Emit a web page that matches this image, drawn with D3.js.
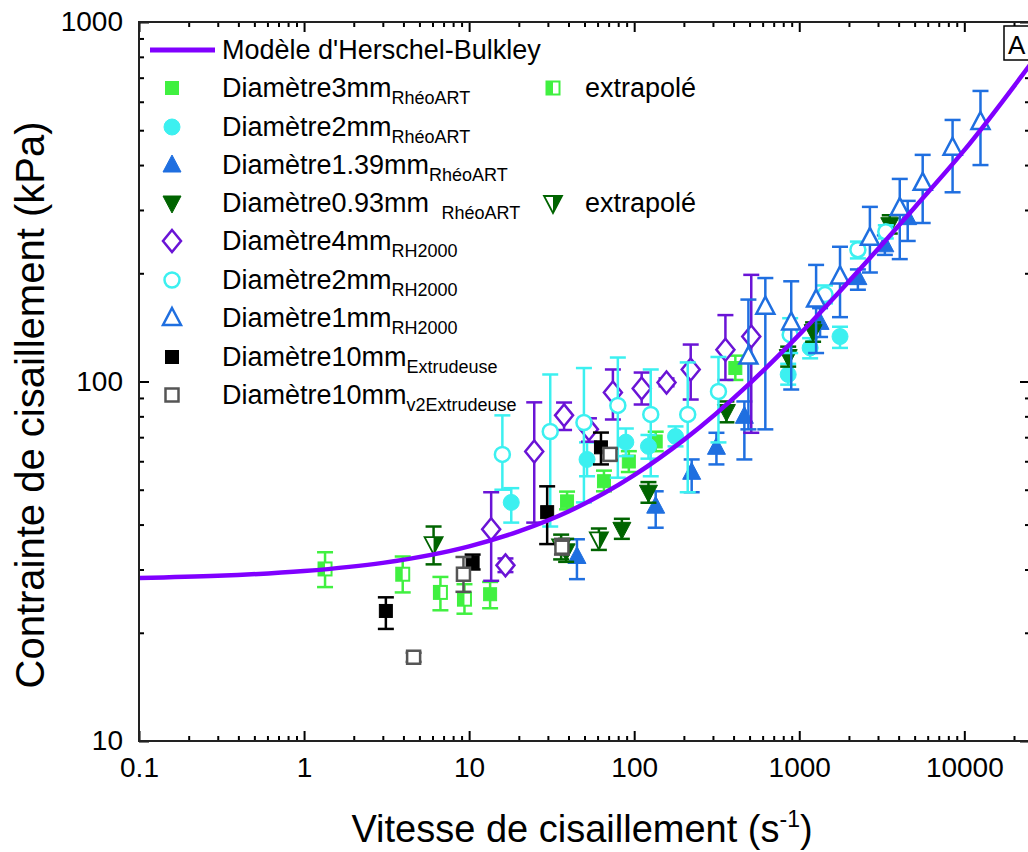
<!DOCTYPE html>
<html><head><meta charset="utf-8">
<script src="https://cdn.jsdelivr.net/npm/d3@7"></script>
<style>body{margin:0;background:#fff}</style>
</head><body><svg id="c" width="1028" height="852"></svg>
<script>
// ---- tick labels ----
const xTickValues = [0.1, 1, 10, 100, 1000, 10000];
const yTickValues = [10, 100, 1000];

// ---- Herschel-Bulkley model curve ----
const hbShear  = [0.1, 0.3, 1, 3, 10, 20, 40, 100, 200, 500, 1000, 2000, 5000, 10000, 25000];
const hbStress = [28.4, 28.8, 29.7, 31.3, 34.8, 38.3, 43.5, 54.9, 68.8, 98.7, 135, 190, 305, 440, 760];

// ---- data: [shear rate, stress, err low, err high] ----
const d3mmRheo = [
  [13.4, 25.6, 23.4, 27.7], [39.2, 46.4, 44.1, 49.4], [65.6, 52.8, 49.5, 56.5],
  [92.8, 59.9, 56, 64], [135, 68.1, 64, 72.5], [410, 109, 101, 118]
];
const d3mmExtra = [
  [1.34, 30.1, 26.8, 33.5], [3.96, 29.1, 25.9, 32.6], [6.7, 25.9, 23.1, 28.6], [9.37, 24.8, 22.6, 27.3]
];
const d2mmRheo = [
  [18.0, 46.1, 40.5, 50.5], [51.8, 60.7, 54.5, 67.7], [89, 67.8, 62, 74], [122, 66, 61, 71],
  [178, 70.3, 66, 75], [857, 104.6, 98, 112], [1164, 124, 116, 132], [1766, 133.4, 124, 142]
];
const d139Rheo = [
  [45, 32.6, 28.2, 36.4], [135, 45, 39.2, 49.5], [223, 55.9, 49.2, 60.7], [315, 65.6, 58.8, 72],
  [465, 80, 60.7, 88], [1337, 146, 133, 160], [2266, 194.5, 180, 205], [3300, 240, 225, 255],
  [4540, 285.6, 246, 318]
];
const d093Rheo = [
  [38.7, 33.8, 31.5, 36.5], [84.2, 38.8, 36.5, 41.5], [122, 49.2, 46, 52.5], [362, 82.5, 77, 88],
  [857, 117.3, 110, 125], [1213, 137.6, 129, 146], [3535, 273, 258, 290]
];
const d093Extra = [
  [6.09, 35.3, 31.0, 39.5], [36.1, 34.8, 32, 37.5], [61.1, 36.4, 34, 39]
];
const d4mmRH = [
  [13.6, 38.8, 27.9, 49.2], [16.6, 30.8, 29.5, 32.2], [24.8, 63.9, 40.5, 87.5], [37.6, 80.5, 73.3, 87.4],
  [53.2, 73.6, 68, 79], [74.3, 93.2, 78.4, 108], [111, 95.6, 86.3, 105.9], [157, 99.4, 97, 102],
  [220, 108, 89.1, 126.7], [357, 122.6, 101, 153], [512, 133.4, 72, 198]
];
const d2mmRH = [
  [15.9, 62.7, 50, 80.5], [31, 72.6, 39.5, 104.6], [49.6, 76.9, 46.1, 109], [79.6, 85.8, 54, 116.6],
  [126, 81, 54.5, 108], [211, 81, 49.2, 113], [324, 93.8, 67.7, 117], [881, 135, 120, 150],
  [1433, 174.5, 165, 185], [2266, 232.6, 220, 245], [3345, 261, 250, 272]
];
const d1mmRH = [
  [492, 117.3, 73.6, 169], [623, 161.5, 73.6, 194], [894, 146, 95, 190], [1265, 169, 120, 211],
  [1766, 196, 151, 237], [2679, 251, 201, 306], [4064, 304, 219, 366], [5595, 357, 276, 427],
  [8490, 447, 336, 534], [12530, 527, 400, 643]
];
const d10Extr = [
  [3.13, 23.0, 20.5, 25.1], [10.5, 31.4, 30, 33], [29.7, 43.3, 35.3, 51.1], [62.9, 65.6, 58.8, 72.1]
];
const d10v2Extr = [
  [4.61, 17.1, 16.6, 17.6], [9.24, 29.1, 26, 32.5], [36.5, 34.6, 33, 36.5], [71.3, 62.7, 60.5, 65]
];

// ---- colours ----
const cGreen = "#40f040", cCyan = "#3cf0f0", cBlue = "#1f6fe0", cDkGreen = "#006400",
      cPurple = "#6a14d6", cCurve = "#8000ff", cBlack = "#000000", cGray = "#555555";

const series = [
  {data: d3mmExtra, shape: "halfSquare", color: cGreen},
  {data: d3mmRheo, shape: "square", color: cGreen, fill: true},
  {data: d2mmRheo, shape: "circle", color: cCyan, fill: true},
  {data: d139Rheo, shape: "triUp", color: cBlue, fill: true},
  {data: d093Extra, shape: "halfTriDown", color: cDkGreen},
  {data: d093Rheo, shape: "triDown", color: cDkGreen, fill: true},
  {data: d4mmRH, shape: "diamond", color: cPurple, fill: false},
  {data: d2mmRH, shape: "circle", color: cCyan, fill: false},
  {data: d1mmRH, shape: "triUp", color: cBlue, fill: false},
  {data: d10Extr, shape: "square", color: cBlack, fill: true},
  {data: d10v2Extr, shape: "square", color: cGray, fill: false}
];

const W = 1028, H = 852;
const L = 139, R = 1030, T = 22, B = 741;
const FONT = "'Liberation Sans', Arial, Helvetica, sans-serif";

const x = d3.scaleLog().domain([0.1, 25000]).range([L, R]);
const y = d3.scaleLog().domain([10, 1000]).range([B, T]);

const svg = d3.select("#c");
svg.append("rect").attr("width", W).attr("height", H).attr("fill", "#fff");
svg.append("defs").append("clipPath").attr("id", "clip")
  .append("rect").attr("x", L).attr("y", T).attr("width", R - L).attr("height", B - T);

function drawMarker(g, shape, cx, cy, color, fill) {
  const sw = 2.5;
  if (shape === "square") {
    g.append("rect").attr("x", cx - 6.5).attr("y", cy - 6.5).attr("width", 13).attr("height", 13)
      .attr("fill", fill ? color : "#fff").attr("stroke", color).attr("stroke-width", fill ? 1 : sw);
  } else if (shape === "halfSquare") {
    g.append("rect").attr("x", cx - 6.5).attr("y", cy - 6.5).attr("width", 13).attr("height", 13)
      .attr("fill", "#fff").attr("stroke", color).attr("stroke-width", 2);
    g.append("rect").attr("x", cx - 6.5).attr("y", cy - 6.5).attr("width", 6.5).attr("height", 13)
      .attr("fill", color);
  } else if (shape === "circle") {
    g.append("circle").attr("cx", cx).attr("cy", cy).attr("r", fill ? 8 : 7.5)
      .attr("fill", fill ? color : "#fff").attr("stroke", color).attr("stroke-width", fill ? 1 : sw);
  } else if (shape === "triUp") {
    const p = [[cx, cy - 10], [cx + 9, cy + 7], [cx - 9, cy + 7]];
    g.append("polygon").attr("points", p.join(" "))
      .attr("fill", fill ? color : "#fff").attr("stroke", color).attr("stroke-width", fill ? 1 : sw)
      .attr("stroke-linejoin", "miter");
  } else if (shape === "triDown") {
    const p = [[cx - 9, cy - 7], [cx + 9, cy - 7], [cx, cy + 10]];
    g.append("polygon").attr("points", p.join(" "))
      .attr("fill", fill ? color : "#fff").attr("stroke", color).attr("stroke-width", fill ? 1 : sw);
  } else if (shape === "halfTriDown") {
    const p = [[cx - 9, cy - 7], [cx + 9, cy - 7], [cx, cy + 10]];
    g.append("polygon").attr("points", p.join(" "))
      .attr("fill", "#fff").attr("stroke", color).attr("stroke-width", 1.8);
    const q = [[cx, cy - 7], [cx + 9, cy - 7], [cx, cy + 10]];
    g.append("polygon").attr("points", q.join(" ")).attr("fill", color);
  } else if (shape === "diamond") {
    const p = [[cx, cy - 11], [cx + 9, cy], [cx, cy + 11], [cx - 9, cy]];
    g.append("polygon").attr("points", p.join(" "))
      .attr("fill", fill ? color : "#fff").attr("stroke", color).attr("stroke-width", sw);
  }
}

// ---- data with error bars ----
const plot = svg.append("g").attr("clip-path", "url(#clip)");
series.forEach(s => {
  const g = plot.append("g");
  s.data.forEach(d => {
    const cx = x(d[0]), cy = y(d[1]), y1 = y(d[2]), y2 = y(d[3]);
    const eg = g.append("g").attr("stroke", s.color).attr("stroke-width", 2.5);
    eg.append("line").attr("x1", cx).attr("x2", cx).attr("y1", y1).attr("y2", y2);
    eg.append("line").attr("x1", cx - 8).attr("x2", cx + 8).attr("y1", y1).attr("y2", y1);
    eg.append("line").attr("x1", cx - 8).attr("x2", cx + 8).attr("y1", y2).attr("y2", y2);
  });
  s.data.forEach(d => drawMarker(g, s.shape, x(d[0]), y(d[1]), s.color, s.fill));
});

// ---- model curve ----
const hbPts = hbShear.map((v, i) => [v, hbStress[i]]);
plot.append("path").datum(hbPts)
  .attr("d", d3.line().x(d => x(d[0])).y(d => y(d[1])).curve(d3.curveMonotoneX))
  .attr("fill", "none").attr("stroke", cCurve).attr("stroke-width", 4.5);

// ---- axes (ticks inward on all four sides) ----
const minorX = [], minorY = [];
[0.1, 1, 10, 100, 1000, 10000].forEach(b => { for (let m = 2; m <= 9; m++) if (b * m <= 25000) minorX.push(b * m); });
[10, 100].forEach(b => { for (let m = 2; m <= 9; m++) minorY.push(b * m); });

function styleAxis(sel) {
  sel.select(".domain").remove();
  sel.selectAll("line").attr("stroke", "#000").attr("stroke-width", 2);
}
const fmt = d => String(d);
// bottom
svg.append("g").attr("transform", `translate(0,${B})`)
  .call(d3.axisBottom(x).tickValues(minorX).tickSize(-5).tickFormat("")).call(styleAxis);
svg.append("g").attr("transform", `translate(0,${B})`)
  .call(d3.axisBottom(x).tickValues(xTickValues).tickSize(-10).tickPadding(16).tickFormat(fmt))
  .call(styleAxis)
  .selectAll("text").attr("font-family", FONT).attr("font-size", 28).attr("fill", "#000");
// top
svg.append("g").attr("transform", `translate(0,${T})`)
  .call(d3.axisTop(x).tickValues(minorX).tickSize(-5).tickFormat("")).call(styleAxis);
svg.append("g").attr("transform", `translate(0,${T})`)
  .call(d3.axisTop(x).tickValues(xTickValues).tickSize(-10).tickFormat("")).call(styleAxis);
// left
svg.append("g").attr("transform", `translate(${L},0)`)
  .call(d3.axisLeft(y).tickValues(minorY).tickSize(-5).tickFormat("")).call(styleAxis);
svg.append("g").attr("transform", `translate(${L},0)`)
  .call(d3.axisLeft(y).tickValues(yTickValues).tickSize(-10).tickPadding(16).tickFormat(fmt))
  .call(styleAxis)
  .selectAll("text").attr("font-family", FONT).attr("font-size", 28).attr("fill", "#000");
// right
svg.append("g").attr("transform", `translate(${R},0)`)
  .call(d3.axisRight(y).tickValues(minorY).tickSize(-5).tickFormat("")).call(styleAxis);
svg.append("g").attr("transform", `translate(${R},0)`)
  .call(d3.axisRight(y).tickValues(yTickValues).tickSize(-10).tickFormat("")).call(styleAxis);

// frame
svg.append("rect").attr("x", L).attr("y", T).attr("width", R - L).attr("height", B - T)
  .attr("fill", "none").attr("stroke", "#222").attr("stroke-width", 2);

// ---- axis titles ----
const xt = svg.append("text").attr("x", 582).attr("y", 842).attr("text-anchor", "middle")
  .attr("font-family", FONT).attr("font-size", 38).attr("fill", "#000");
xt.append("tspan").text("Vitesse de cisaillement (s");
xt.append("tspan").attr("font-size", 23).attr("dy", -15).text("-1");
xt.append("tspan").attr("dy", 15).text(")");

svg.append("text").attr("transform", "translate(44,405) rotate(-90)").attr("text-anchor", "middle")
  .attr("font-family", FONT).attr("font-size", 40).attr("fill", "#000")
  .text("Contrainte de cisaillement (kPa)");

// ---- legend ----
const leg = svg.append("g").attr("font-family", FONT).attr("fill", "#000");
leg.append("line").attr("x1", 150).attr("x2", 215).attr("y1", 50).attr("y2", 50)
  .attr("stroke", cCurve).attr("stroke-width", 5);
leg.append("text").attr("x", 222).attr("y", 59).attr("font-size", 27).text("Modèle d'Herschel-Bulkley");

const legRows = [
  {main: "Diamètre3mm", sub: "RhéoART", shape: "square", color: cGreen, fill: true},
  {main: "Diamètre2mm", sub: "RhéoART", shape: "circle", color: cCyan, fill: true},
  {main: "Diamètre1.39mm", sub: "RhéoART", shape: "triUp", color: cBlue, fill: true},
  {main: "Diamètre0.93mm ", sub: " RhéoART", shape: "triDown", color: cDkGreen, fill: true},
  {main: "Diamètre4mm", sub: "RH2000", shape: "diamond", color: cPurple, fill: false},
  {main: "Diamètre2mm", sub: "RH2000", shape: "circle", color: cCyan, fill: false},
  {main: "Diamètre1mm", sub: "RH2000", shape: "triUp", color: cBlue, fill: false},
  {main: "Diamètre10mm", sub: "Extrudeuse", shape: "square", color: cBlack, fill: true},
  {main: "Diamètre10mm", sub: "v2Extrudeuse", shape: "square", color: cGray, fill: false}
];
const legY = [88, 127, 165, 203, 241, 280, 318, 357, 395];
legRows.forEach((r, i) => {
  const yy = legY[i];
  drawMarker(leg, r.shape, 172, yy, r.color, r.fill);
  const t = leg.append("text").attr("x", 222).attr("y", yy + 9).attr("font-size", 27)
    .attr("xml:space", "preserve");
  t.append("tspan").text(r.main);
  t.append("tspan").attr("font-size", 18).attr("dy", 7).text(r.sub);
});
drawMarker(leg, "halfSquare", 553, 88, cGreen);
leg.append("text").attr("x", 585).attr("y", 97).attr("font-size", 27).text("extrapolé");
drawMarker(leg, "halfTriDown", 553, 203, cDkGreen);
leg.append("text").attr("x", 585).attr("y", 212).attr("font-size", 27).text("extrapolé");

// ---- panel label ----
svg.append("rect").attr("x", 1004).attr("y", T + 4).attr("width", 40).attr("height", 34)
  .attr("fill", "#fff").attr("stroke", "#000").attr("stroke-width", 1.5);
svg.append("text").attr("x", 1008).attr("y", T + 32).attr("font-family", FONT).attr("font-size", 26)
  .attr("fill", "#000").text("A");
</script>
</body></html>
